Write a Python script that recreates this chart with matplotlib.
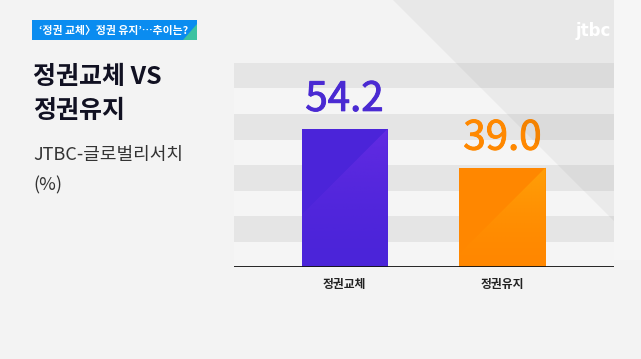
import matplotlib
matplotlib.use("Agg")
import matplotlib.pyplot as plt
import matplotlib.patheffects as pe
import numpy as np
from matplotlib.patches import Polygon, Rectangle

plt.rcParams['font.family'] = ['Noto Sans CJK KR', 'DejaVu Sans']

# data
categories = ["정권교체", "정권유지"]
values = [54.2, 39.0]
value_labels = ["54.2", "39.0"]
bar_colors = ["#4b24d9", "#ff8700"]
light_colors = ["#6a2ee6", "#ffa80a"]
label_colors = ["#4a2ad2", "#ff8800"]
band_edges = [10, 20, 30, 40, 50, 60, 70, 80]

W, H = 641, 359
fig = plt.figure(figsize=(W / 100, H / 100), dpi=100)
fig.patch.set_facecolor("#f3f3f3")

bg = fig.add_axes([0, 0, 1, 1])
bg.set_xlim(0, W)
bg.set_ylim(H, 0)
bg.axis("off")

# header tag
bg.add_patch(Rectangle((32, 20), 165, 20, facecolor="#0a8cf0", edgecolor="none"))
bg.add_patch(Polygon([[183, 40], [197, 40], [197, 24]], closed=True,
                     facecolor="#3cc2a0", edgecolor="none"))
bg.text(39, 30.5, "‘정권 교체〉정권 유지’…추이는?", color="white", fontsize=7.8,
        fontweight="bold", va="center", ha="left")

# left titles
bg.text(33, 77, "정권교체 VS", color="#111122", fontsize=18, fontweight="bold",
        va="center", ha="left")
bg.text(33, 111, "정권유지", color="#111122", fontsize=18, fontweight="bold",
        va="center", ha="left")
bg.text(33, 155, "JTBC-글로벌리서치", color="#333333", fontsize=13,
        va="center", ha="left")
bg.text(33, 185, "(%)", color="#333333", fontsize=13,
        va="center", ha="left")

# chart axes
left, right, top, bottom = 234, 614, 63, 267
ax = fig.add_axes([left / W, 1 - bottom / H, (right - left) / W, (bottom - top) / H])
ax.set_facecolor("none")

for lo in band_edges[::2]:
    ax.axhspan(lo, lo + 10, color="#e5e5e5", lw=0, zorder=0)
for lo in [0] + band_edges[1::2][:-1]:
    ax.axhspan(lo, lo + 10, color="#f5f5f5", lw=0, zorder=0)

x = list(range(len(categories)))
bars = ax.bar(x, values, width=0.545, color=bar_colors, zorder=2)

# pixel -> data scale for a 45 degree diagonal
px_per_x = (right - left) / (1.706 + 0.70)
px_per_y = (bottom - top) / 80

for b, lc, vl, tc in zip(bars, light_colors, value_labels, label_colors):
    x0, w, h = b.get_x(), b.get_width(), b.get_height()
    drop = w * px_per_x / px_per_y
    tri = Polygon([[x0 + w, h], [x0, h - drop], [x0, 0], [x0 + w, 0]], closed=True,
                  facecolor="none", edgecolor="none")
    ax.add_patch(tri)
    grad = np.linspace(0, 1, 100).reshape(-1, 1)
    rgba = np.zeros((100, 1, 4))
    rgba[..., :3] = matplotlib.colors.to_rgb(lc)
    rgba[..., 3] = 0.75 * grad ** 1.5
    im = ax.imshow(rgba, extent=[x0, x0 + w, 0, h], origin="lower", aspect="auto",
                   zorder=3, interpolation="bilinear")
    im.set_clip_path(tri)
    ax.text(x0 + w / 2, h + 3.5, vl, ha="center", va="bottom", color=tc,
            fontsize=29, zorder=4,
            path_effects=[pe.withStroke(linewidth=0.7, foreground=tc)])

ax.set_xlim(-0.70, 1.706)
ax.set_ylim(0, 80)
ax.axhline(0, color="#111111", lw=2, zorder=5)
for s in ax.spines.values():
    s.set_visible(False)
ax.set_yticks([])
ax.set_xticks(x)
ax.set_xticklabels(categories, fontsize=8.5, fontweight="bold", color="#222222")
ax.tick_params(axis="x", length=0, pad=8)

# diagonal shading over the top right
ov = fig.add_axes([0, 0, 1, 1])
ov.set_xlim(0, W)
ov.set_ylim(H, 0)
ov.axis("off")
ov.set_facecolor("none")
ov.add_patch(Polygon([[393, 0], [614, 0], [614, 221]], closed=True,
                     facecolor="black", alpha=0.045, edgecolor="none"))
ov.add_patch(Polygon([[614, 0], [641, 0], [641, 260], [614, 260]], closed=True,
                     facecolor="white", alpha=0.3, edgecolor="none"))

# logo
ov.text(576, 31, "jtbc", color="white", fontsize=12, fontweight="bold",
        va="center", ha="left", family=["DejaVu Sans"])

fig.savefig("out.png", dpi=100, facecolor=fig.get_facecolor())
